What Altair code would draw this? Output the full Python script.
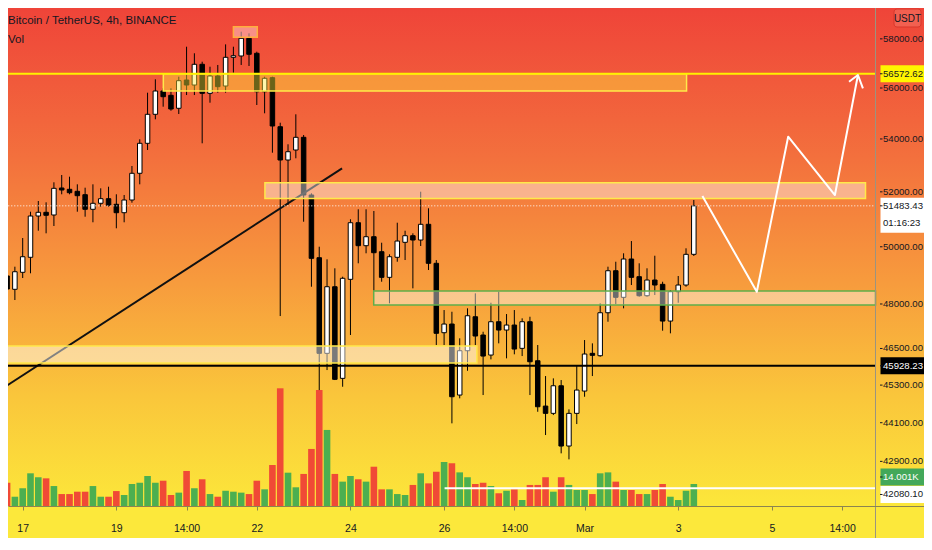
import altair as alt
import pandas as pd

# ---------------- data ----------------
idx = list(range(-2, 87))
opens = [48970, 48505, 49098, 49626, 51111, 51246, 51148, 52143, 52094, 52020,
         51894, 51356, 51577, 51746, 51540, 51231, 51698, 52693, 53833, 54959,
         55880, 55709, 55195, 56321, 56120, 56956, 55788, 56482, 56080, 57241,
         57295, 58022, 57405, 55852, 56414, 54474, 53195, 53576, 54064, 51883,
         49612, 46339, 48595, 45519, 48852, 50867, 50039, 50361, 49825, 48922,
         49626, 50160, 50397, 50242, 50809, 49414, 47026, 47318, 44980, 46425,
         47565, 46949, 46282, 47396, 47116, 47284, 46504, 47396, 46094, 44627,
         44396, 45279, 43372, 44396, 45108, 46339, 46260, 47701, 49153, 48229,
         49566, 48944, 48284, 48828, 48678, 47419, 48422, 48654, 49732]
highs = [49280, 49295, 50314, 51268, 51661, 51613, 52355, 52629, 52565, 52280,
         52154, 52280, 52131, 52191, 51909, 51883, 52968, 53987, 55813, 56349,
         55988, 55988, 56454, 57675, 57405, 57062, 56858, 56928, 57772, 57675,
         58297, 58230, 57470, 56454, 56454, 54630, 53795, 54959, 54153, 51946,
         50003, 49555, 49238, 48944, 50991, 51356, 51356, 51294, 50146, 49732,
         50867, 50577, 50483, 52005, 51393, 49530, 47793, 47735, 46838, 47851,
         48366, 47059, 48043, 48422, 47657, 47793, 47511, 47565, 46615, 45594,
         45519, 45464, 44522, 45920, 46781, 46670, 48023, 49295, 49470, 49768,
         50206, 49414, 49238, 49682, 48769, 48480, 48968, 49946, 51698]
lows = [47690, 48136, 48898, 49063, 50577, 50483, 50747, 51909, 51909, 51268,
        51085, 50882, 51452, 51452, 50664, 50882, 51599, 52280, 53576, 54763,
        55258, 55100, 54971, 55720, 55720, 53833, 55416, 55813, 55813, 56615,
        56928, 56887, 55325, 54998, 53473, 47589, 51514, 53260, 50903, 48595,
        45140, 45789, 45464, 45247, 46949, 49414, 49768, 48456, 48769, 48023,
        49470, 49530, 48539, 50028, 49178, 46615, 46615, 44080, 44874, 45766,
        46615, 44980, 46140, 46670, 46173, 46306, 46249, 44980, 44446, 43714,
        44342, 43146, 42962, 44058, 44925, 45594, 46226, 47396, 47999, 47851,
        48654, 48250, 48250, 48308, 47093, 47005, 48043, 48595, 49672]
closes = [48515, 49118, 49647, 51111, 51246, 51137, 52131, 52068, 51968, 51857,
          51356, 51577, 51746, 51503, 51231, 51698, 52693, 53833, 54959, 55880,
          55653, 55167, 56293, 56120, 56956, 55788, 56482, 56053, 57241, 57306,
          58022, 57364, 55852, 56389, 54502, 53195, 53511, 54064, 51883, 49590,
          46339, 48595, 45487, 48888, 50867, 50039, 50361, 49789, 48922, 49647,
          50206, 50397, 50242, 50809, 49414, 47006, 47318, 44925, 46425, 47599,
          46915, 46249, 47396, 47116, 47284, 46481, 47396, 46061, 44605, 44396,
          45279, 43372, 44396, 45140, 46316, 46273, 47701, 49153, 48229, 49566,
          48922, 48284, 48828, 48654, 47419, 48422, 48654, 49732, 51483.43]
volumes = [14.8, 5.9, 11.3, 20.8, 18.3, 17.6, 12.7, 7.6, 7.6, 9.1,
           9.1, 12.7, 5.9, 5.9, 9.5, 7.0, 14.0, 14.8, 19.1, 14.8,
           16.1, 7.0, 8.5, 22.3, 11.3, 17.0, 7.6, 5.9, 9.7, 9.1,
           8.5, 7.6, 16.1, 10.6, 26.1, 74.9, 21.2, 11.9, 20.4, 36.3,
           73.8, 48.4, 20.4, 15.5, 19.1, 17.0, 15.5, 25.0, 10.6, 10.6,
           7.6, 7.0, 13.4, 20.8, 14.4, 21.8, 28.0, 27.2, 21.4, 18.3,
           14.0, 14.8, 12.7, 8.1, 9.7, 10.6, 3.8, 13.4, 13.4, 18.3,
           9.1, 18.3, 13.4, 10.2, 10.2, 7.6, 20.8, 21.4, 15.5, 10.2,
           10.2, 7.6, 7.6, 10.2, 14.0, 5.9, 3.8, 9.7, 14.001]

x_tick_idx = [0, 12, 21, 30, 42, 54, 63, 72, 84, 96, 105]
x_tick_lbl = ["17", "19", "14:00", "22", "24", "26", "14:00", "Mar", "3", "5", "14:00"]
price_ticks = [58000, 56000, 54000, 52000, 50000, 48000, 46500, 45300, 44100, 42900]

# zones (index start/end, price top/bottom)
box_x1 = [18.02, 27.0, 31.04, -5.0, 44.98]
box_x2 = [85.07, 30.06, 108.0, 58.2, 109.28]
box_p1 = [56572.62, 58505, 52339, 46581, 48445]
box_p2 = [55880, 58064, 51753, 46019, 47965]
box_fill = ["#FFEB3B", "#FFC8C8", "#FFFFFF", "#FFFFFF", "#FFFFFF"]
box_fo = [0.42, 0.55, 0.42, 0.48, 0.42]
box_stroke = ["#FFE94A", "#FFAE3D", "#FFE94A", "#FFE94A", "#5FAE4A"]

trend_i = [-2.256, 40.925]
trend_p = [45247, 52880]
proj_i = [87.10, 94.07, 98.09, 104.08, 107.03]
proj_p = [51845, 48422, 54087, 51882, 56522]
arrow_i = [105.89, 107.03, 107.67]
arrow_p = [56252, 56522, 55988]

hline_p = [56572.62, 45928.23]
hline_c = ["#FFF000", "#000000"]
last_price = 51483.43
vol_line = 11.3
axis_i = 109.28

# labels on the price axis
lab_txt = ["56572.62", "51483.43", "01:16:23", "45928.23", "14.001K", "42080.10"]
lab_pos = [56572.62, 51483.43, 50856, 45928.23, 42424, 41898]
lab_txtcol = ["#131722", "#131722", "#131722", "#FFFFFF", "#FFFFFF", "#131722"]
lbox_pos = [56572.62, 45928.23, 42424, 41898]
lbox_fill = ["#FFF500", "#000000", "#43A85A", "#FFFFFF"]
lbox2_pos = [51136]

# ---------------- layout constants ----------------
W, H = 916, 498
BOTTOM = 32
X_DOMAIN = [-1.2421, 114.854]
P_DOMAIN = [41555, 59291]
V_DOMAIN = [0, 316.9]
FONT = "Liberation Sans, Arial, sans-serif"
FS = 9.6
DARK = "#131722"
RED = "#F04A36"
GREEN = "#4CAF50"
AX = 872  # plot-x of the price axis line
TX = AX + 3

xscale = alt.Scale(domain=X_DOMAIN, nice=False, zero=False)
pscale = alt.Scale(type="log", domain=P_DOMAIN, nice=False, zero=False)
vscale = alt.Scale(domain=V_DOMAIN, nice=False, zero=False)
lbl_expr = "[" + ",".join("'%s'" % s for s in x_tick_lbl) + "][indexof([" + \
    ",".join(str(v) for v in x_tick_idx) + "], datum.value)]"
xaxis = alt.Axis(values=x_tick_idx, labelExpr=lbl_expr, title=None, grid=False,
                 domainColor="#8C8450", tickColor="#8C8450", tickSize=4,
                 labelPadding=13, labelFont=FONT, labelFontSize=10.5,
                 labelColor=DARK, labelFlush=False, labelOverlap=False, zindex=1)


def X(f):
    return alt.X(f, scale=xscale, axis=xaxis)


def PY(f):
    return alt.Y(f, scale=pscale, axis=None)


df = pd.DataFrame(dict(i=idx, o=opens, h=highs, l=lows, c=closes, v=volumes))
df["dir"] = ["up" if c >= o else "down" for o, c in zip(opens, closes)]

# background gradient
bg = alt.Chart(pd.DataFrame({"a": [0]})).mark_rect(
    fill=alt.Gradient(gradient="linear", x1=0, y1=0, x2=0, y2=1, stops=[
        alt.GradientStop(offset=0, color="#EF4439"),
        alt.GradientStop(offset=0.3, color="#F3703D"),
        alt.GradientStop(offset=0.55, color="#F79B3D"),
        alt.GradientStop(offset=0.78, color="#FAC63B"),
        alt.GradientStop(offset=1, color="#FCE73A"),
    ])
).encode(x=alt.value(0), x2=alt.value(W), y=alt.value(0), y2=alt.value(H))

# volume pane
vol_bars = alt.Chart(df).mark_bar(size=6.6, clip=True).encode(
    x=X("i:Q"),
    y=alt.Y("v:Q", scale=vscale, axis=None),
    color=alt.Color("dir:N", scale=alt.Scale(domain=["up", "down"], range=[GREEN, RED]), legend=None),
)
vol_ln = alt.Chart(pd.DataFrame({"v": [vol_line], "a": [54.06], "b": [axis_i]})).mark_rule(
    color="white", strokeWidth=2).encode(x=X("a:Q"), x2="b:Q", y=alt.Y("v:Q", scale=vscale, axis=None))
vol_group = alt.layer(vol_bars, vol_ln)

# candles
wicks = alt.Chart(df).mark_rule(color="#000000", strokeWidth=1, clip=True).encode(
    x=X("i:Q"), y=PY("l:Q"), y2="h:Q")
bodies = alt.Chart(df).mark_bar(size=4.5, stroke="#000000", strokeWidth=1, clip=True).encode(
    x=X("i:Q"), y=PY("o:Q"), y2="c:Q",
    fill=alt.Fill("dir:N", scale=alt.Scale(domain=["up", "down"], range=["#FFFFFF", "#000000"]), legend=None))

trend = alt.Chart(pd.DataFrame({"i": trend_i, "p": trend_p})).mark_line(
    color="#111111", strokeWidth=2, clip=True).encode(x=X("i:Q"), y=PY("p:Q"))

boxes = alt.Chart(pd.DataFrame(dict(a=box_x1, b=box_x2, p1=box_p1, p2=box_p2, f=box_fill,
                                    fo=box_fo, s=box_stroke))).mark_rect(
    strokeWidth=1.5, clip=True).encode(
    x=X("a:Q"), x2="b:Q", y=PY("p1:Q"), y2="p2:Q",
    fill=alt.Fill("f:N", scale=None), fillOpacity=alt.FillOpacity("fo:Q", scale=None),
    stroke=alt.Stroke("s:N", scale=None))

hlines = alt.Chart(pd.DataFrame({"p": hline_p, "c": hline_c, "a": [-3, -3], "b": [axis_i, axis_i]})).mark_rule(
    strokeWidth=2, clip=True).encode(x=X("a:Q"), x2="b:Q", y=PY("p:Q"), color=alt.Color("c:N", scale=None))

dotted = alt.Chart(pd.DataFrame({"p": [last_price], "a": [-3], "b": [axis_i]})).mark_rule(
    color="white", strokeWidth=1, strokeDash=[1, 2], clip=True).encode(x=X("a:Q"), x2="b:Q", y=PY("p:Q"))

proj_df = pd.DataFrame({
    "i": proj_i + arrow_i, "p": proj_p + arrow_p,
    "g": ["path"] * len(proj_i) + ["head"] * len(arrow_i),
    "s": list(range(len(proj_i))) + list(range(len(arrow_i))),
})
proj = alt.Chart(proj_df).mark_line(color="white", strokeWidth=2, strokeJoin="round").encode(
    x=X("i:Q"), y=PY("p:Q"), detail="g:N", order="s:Q")

vaxis_line = alt.Chart(pd.DataFrame({"a": [axis_i]})).mark_rule(color="#9A9480", strokeWidth=1).encode(
    x=X("a:Q"), y=alt.value(0), y2=alt.value(H + BOTTOM))

tick_df = pd.DataFrame({"p": price_ticks, "t": ["%.2f" % v for v in price_ticks]})
ptick_marks = alt.Chart(tick_df).mark_rule(color=DARK, strokeWidth=1).encode(
    x=alt.value(AX), x2=alt.value(AX + 2.5), y=PY("p:Q"))
ptick_text = alt.Chart(tick_df).mark_text(align="left", baseline="middle", font=FONT,
                                          fontSize=FS, color=DARK).encode(
    x=alt.value(TX), y=PY("p:Q"), text="t:N")

lbox = alt.Chart(pd.DataFrame({"p": lbox_pos, "f": lbox_fill})).mark_tick(
    orient="horizontal", size=44, thickness=17, opacity=1).encode(
    x=alt.value(AX + 22.5), y=PY("p:Q"), color=alt.Color("f:N", scale=None))
lbox2 = alt.Chart(pd.DataFrame({"p": lbox2_pos})).mark_tick(
    orient="horizontal", size=44, thickness=35, opacity=1, color="#FFFFFF").encode(
    x=alt.value(AX + 22.5), y=PY("p:Q"))
lab_ticks = alt.Chart(pd.DataFrame({"p": lab_pos[:2] + lab_pos[3:]})).mark_rule(
    color=DARK, strokeWidth=1).encode(x=alt.value(AX), x2=alt.value(AX + 2.5), y=PY("p:Q"))
lab_text = alt.Chart(pd.DataFrame({"p": lab_pos, "t": lab_txt, "c": lab_txtcol})).mark_text(
    align="left", baseline="middle", font=FONT, fontSize=FS).encode(
    x=alt.value(TX), y=PY("p:Q"), text="t:N", color=alt.Color("c:N", scale=None))

price_group = alt.layer(wicks, bodies, trend, boxes, hlines, dotted, proj, vaxis_line,
                        ptick_marks, ptick_text, lbox, lbox2, lab_ticks, lab_text)

# header texts and currency badge
hdr = alt.Chart(pd.DataFrame({"t": ["Bitcoin / TetherUS, 4h, BINANCE", "Vol"], "y": [13, 32]})).mark_text(
    align="left", baseline="middle", font=FONT, fontSize=11.5, color=DARK).encode(
    x=alt.value(0), y=alt.Y("y:Q", scale=None), text="t:N")
badge = alt.Chart(pd.DataFrame({"a": [0]})).mark_rect(
    fill="#F26050", stroke="#D9362B", strokeWidth=1, cornerRadius=3).encode(
    x=alt.value(AX + 14), x2=alt.value(AX + 41), y=alt.value(1), y2=alt.value(19))
badge_t = alt.Chart(pd.DataFrame({"t": ["USDT"]})).mark_text(
    align="center", baseline="middle", font=FONT, fontSize=10, color=DARK).encode(
    x=alt.value(AX + 27.5), y=alt.value(10.5), text="t:N")

chart = alt.layer(bg, vol_group, price_group, hdr, badge, badge_t).resolve_scale(
    y="independent", color="independent"
).properties(
    width=W, height=H,
    autosize=alt.AutoSizeParams(type="none"),
    padding={"left": 0, "top": 0, "right": 0, "bottom": BOTTOM},
).configure(
    background="#FCE83B"
).configure_view(stroke=None)

chart.save("out.html", embed_options={"renderer": "svg", "actions": False})
